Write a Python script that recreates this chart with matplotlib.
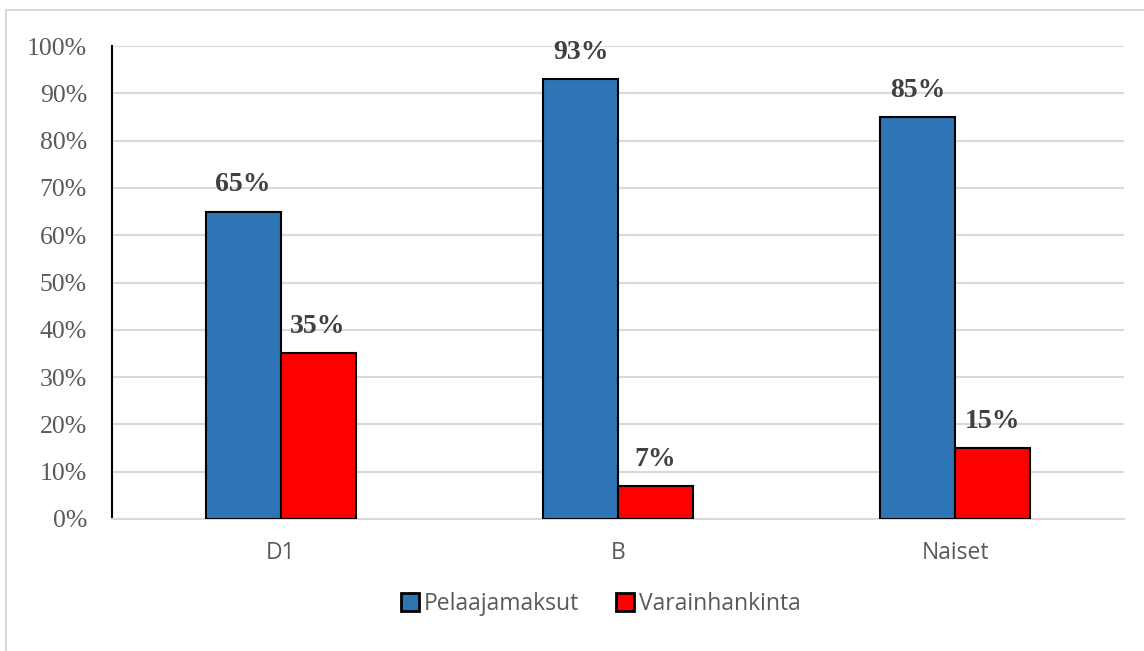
import numpy as np
import matplotlib.pyplot as plt
from matplotlib.patches import Rectangle, Patch

categories = ['D1', 'B', 'Naiset']
pelaajamaksut = [65, 93, 85]
varainhankinta = [35, 7, 15]
series_names = ['Pelaajamaksut', 'Varainhankinta']
yticks = list(range(0, 101, 10))

blue = '#2e75b6'
red = '#ff0000'

fig = plt.figure(figsize=(11.44, 6.51), dpi=100)
ax = fig.add_axes([0.0979, 0.2028, 0.8846, 0.7265])

x = np.arange(len(categories))
w = 0.222
ax.bar(x - w / 2, pelaajamaksut, w, color=blue, edgecolor='black', linewidth=1.5, zorder=3)
ax.bar(x + w / 2, varainhankinta, w, color=red, edgecolor='black', linewidth=1.5, zorder=3)

for xi, v in zip(x - w / 2, pelaajamaksut):
    ax.text(xi, v + 3.0, f'{v}%', ha='center', va='bottom', fontsize=20, fontweight='bold',
            family='Liberation Serif', color='#404040')
for xi, v in zip(x + w / 2, varainhankinta):
    ax.text(xi, v + 3.0, f'{v}%', ha='center', va='bottom', fontsize=20, fontweight='bold',
            family='Liberation Serif', color='#404040')

ax.set_xlim(-0.5, len(categories) - 0.5)
ax.set_ylim(0, 100)
ax.set_yticks(yticks)
ax.set_yticklabels([f'{t}%' for t in yticks], family='Liberation Serif', fontsize=18.5, color='#595959')
ax.set_xticks(x)
ax.set_xticklabels(categories, family='Open Sans', fontsize=16.5, color='#595959')
ax.tick_params(axis='both', length=0)
ax.tick_params(axis='y', pad=18)
ax.tick_params(axis='x', pad=16)

ax.grid(axis='y', color='#d9d9d9', linewidth=1.5, zorder=0)
for s in ['top', 'right']:
    ax.spines[s].set_visible(False)
ax.spines['left'].set_color('black')
ax.spines['left'].set_linewidth(1.5)
ax.spines['bottom'].set_color('#d9d9d9')
ax.spines['bottom'].set_linewidth(1.5)

handles = [Patch(facecolor=blue, edgecolor='black', linewidth=2),
           Patch(facecolor=red, edgecolor='black', linewidth=2)]
fig.legend(handles, series_names, loc='center', bbox_to_anchor=(0.525, 0.072), ncol=2,
           frameon=False, handlelength=0.8, handleheight=0.8, handletextpad=0.2, columnspacing=1.6,
           prop={'family': 'Open Sans', 'size': 16.5}, labelcolor='#595959')

fig.patches.append(Rectangle((6 / 1144, -0.01), 1.02, 1 - 10 / 651 + 0.01, transform=fig.transFigure,
                             fill=False, edgecolor='#d9d9d9', linewidth=1.5))

fig.savefig('out.png', dpi=100)
